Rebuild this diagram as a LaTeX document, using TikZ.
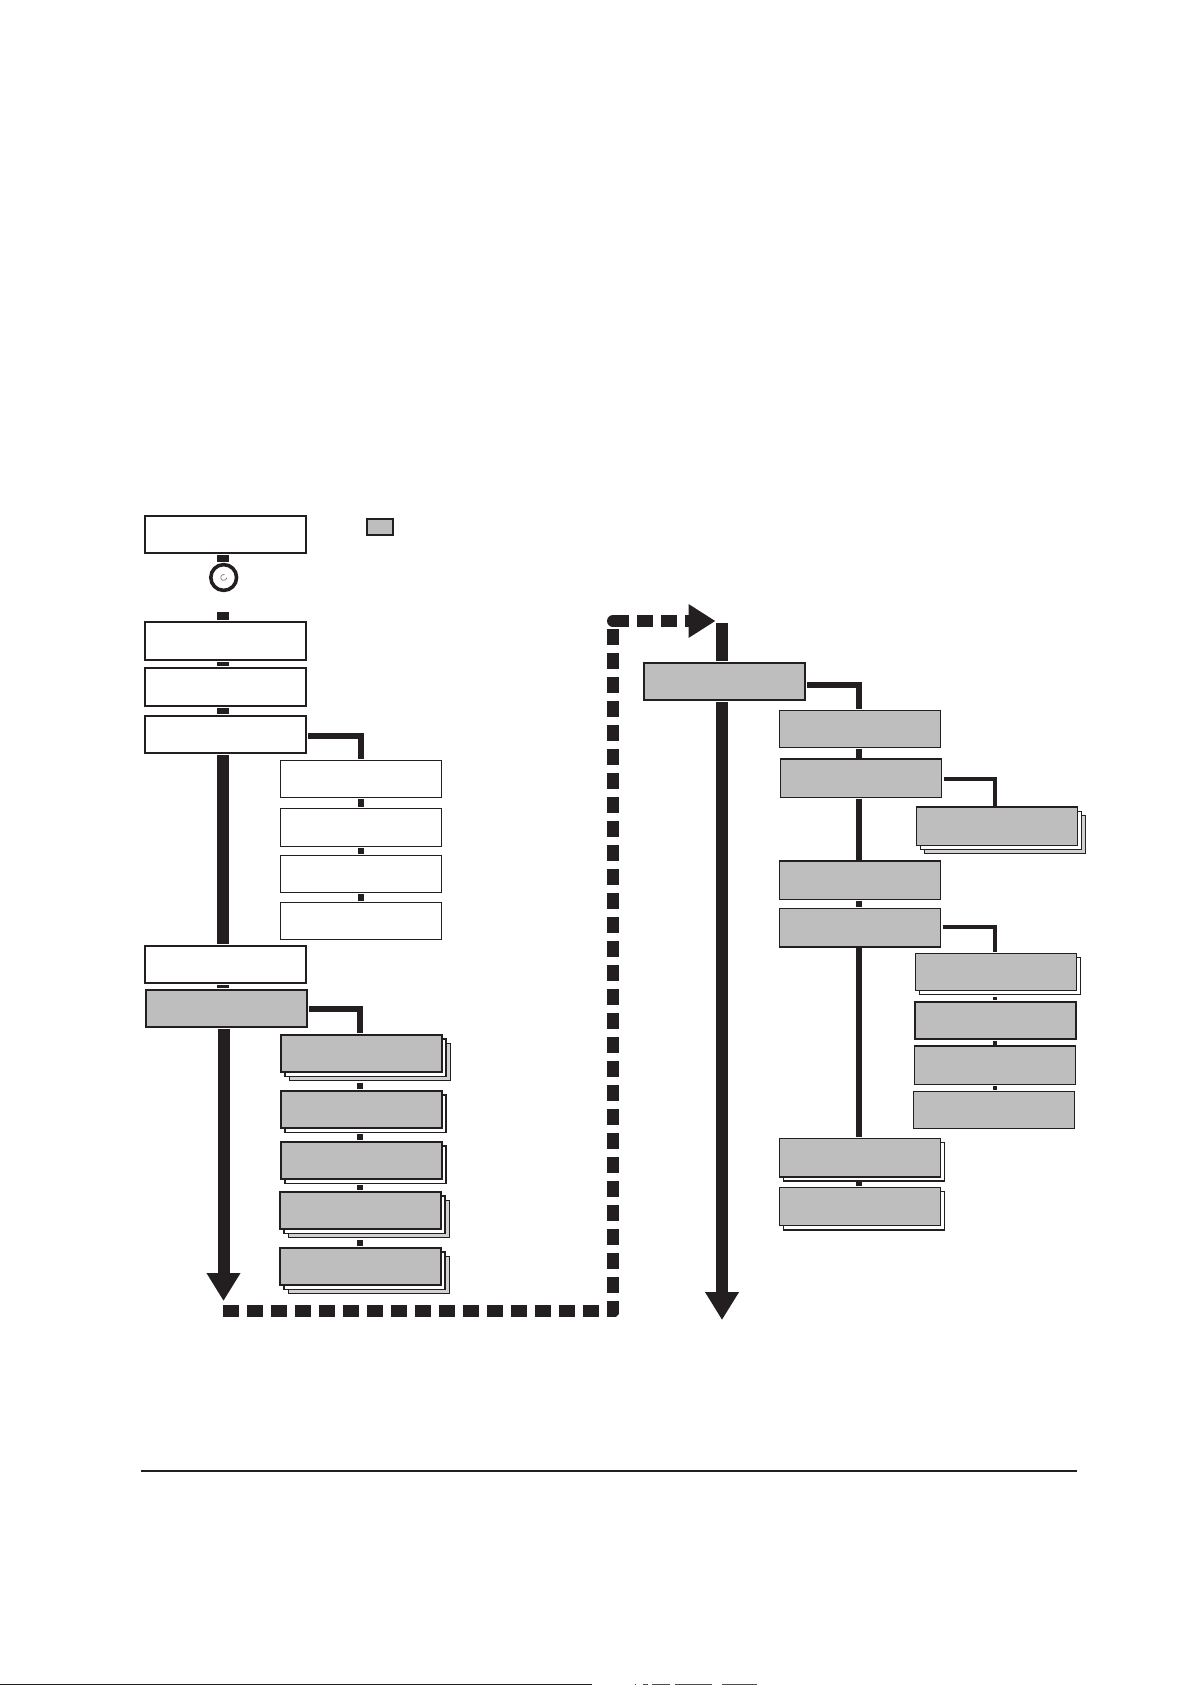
\documentclass[tikz,border=0pt]{standalone}
\usetikzlibrary{arrows.meta}
\definecolor{ink}{HTML}{231F20}
\definecolor{panel}{HTML}{BEBEBE}
\newcommand{\bx}[6]{\node[#2, minimum width={((#5)-(#3))*1pt}, minimum height={((#6)-(#4))*1pt}] (#1) at ({((#3)+(#5))/2},{((#4)+(#6))/2}) {};}
\newcommand{\bxlayers}[5]{% name x1 y1 x2 y2: three-sheet stack, back sheets first
  \bx{#1c}{sheetback}{#2+8}{#3+8}{#4+8.5}{#5+8.5}
  \bx{#1b}{sheetmid}{#2+4}{#3+4}{#4+4}{#5+4}}
\newcommand{\bxlayer}[5]{% name x1 y1 x2 y2: two-sheet stack
  \bx{#1b}{sheetmid}{#2+4}{#3+4}{#4+4}{#5+4}}
\tikzset{
  every node/.style={inner sep=0pt},
  plainbox/.style={draw=ink, fill=white, line width=2pt},
  thinbox/.style={draw=ink, fill=white, line width=1pt},
  greybox/.style={draw=ink, fill=panel, line width=2pt},
  greythin/.style={draw=ink, fill=panel, line width=1pt},
  greymid/.style={draw=ink, fill=panel, line width=1.3pt},
  greyheavy/.style={draw=ink, fill=panel, line width=2.5pt},
  sheetmid/.style={draw=ink, fill=white, line width=1.5pt},
  sheetback/.style={draw=ink, fill=panel!70!white, line width=1pt},
  edgeheavy/.style={draw=ink, line width=2.2pt},
  link/.style={draw=ink, line width=12pt, shorten <=1.3pt, shorten >=1.3pt},
  sublink/.style={draw=ink, line width=6pt, shorten <=1.3pt, shorten >=1.3pt},
  finelink/.style={draw=ink, line width=4pt, shorten <=1.3pt, shorten >=1.3pt},
  branchthick/.style={draw=ink, line width=6pt, miter limit=10, shorten <=1.3pt, shorten >=1.5pt},
  branchfine/.style={draw=ink, line width=4pt, miter limit=10, shorten <=2pt, shorten >=1.5pt},
  trunkarrow/.style={draw=ink, line width=12pt, shorten <=1.3pt, -{Triangle[length=28pt,width=32pt]}},
  jumpflow/.style={draw=ink, line width=12pt, dash pattern=on 16pt off 8pt, -{Triangle[length=27pt,width=32pt]}},
  knob/.style={circle, draw=ink, fill=white, line width=3.6pt, minimum size=25.8pt},
  knobmark/.style={draw=ink!70!white, line width=.6pt},
  rule/.style={draw=ink, line width=2pt},
}
\begin{document}
\begin{tikzpicture}[x=1pt,y=-1pt]
\useasboundingbox (0,0) rectangle (1191,1685);
% column guides
\coordinate (colA) at (223,0);
\coordinate (colB) at (361,0);
\coordinate (colC) at (360,0);
\coordinate (colR) at (722,0);
\coordinate (colS) at (859,0);
\coordinate (colT) at (995,0);
% left column
\bx{b1}{plainbox}{145}{516}{305.8}{552.8}
\node[knob] (knob) at (223.7,577.5) {};
\bx{b2}{plainbox}{145}{622}{305.8}{659.8}
\bx{b3}{plainbox}{145}{668}{305.8}{705.8}
\bx{b4}{plainbox}{145}{716}{305.8}{752.8}
\bx{b5}{plainbox}{145}{946}{305.8}{982.8}
\bx{b6}{greybox}{146}{990}{306.8}{1026.8}
\bx{leg}{greybox}{367}{519}{393}{535}
% white sub-boxes
\bx{s1}{thinbox}{280.5}{760.5}{441.5}{797.5}
\bx{s2}{thinbox}{280.5}{808.5}{441.5}{846.5}
\bx{s3}{thinbox}{280.5}{855.5}{441.5}{892.5}
\bx{s4}{thinbox}{280.5}{902.5}{441.5}{939.5}
% grey stacks, left
\bxlayers{ga}{281}{1035}{442}{1072.3}
\bx{ga}{greybox}{281}{1035}{442}{1072.3}
\bxlayer{gb}{281}{1091}{442}{1128.3}
\bx{gb}{greybox}{281}{1091}{442}{1128.3}
\bxlayer{gc}{281}{1142}{442}{1179.3}
\bx{gc}{greybox}{281}{1142}{442}{1179.3}
\bxlayers{gd}{280}{1192}{441}{1229.3}
\bx{gd}{greybox}{280}{1192}{441}{1229.3}
\bxlayers{ge}{280}{1248}{441}{1285.3}
\bx{ge}{greybox}{280}{1248}{441}{1285.3}
% right column
\bx{r1}{greybox}{644}{663}{805}{700}
\bx{r2}{greythin}{779.5}{710.5}{940.5}{747.5}
\bx{r3}{greymid}{780.7}{759.7}{941.3}{797.3}
\bxlayers{r4}{916.7}{807.7}{1077.3}{845.3}
\bx{r4}{greymid}{916.7}{807.7}{1077.3}{845.3}
\bx{r5}{greymid}{779.7}{861.7}{940.3}{899.3}
\bx{r6}{greymid}{779.7}{908.7}{940.3}{946.3}
\bxlayer{r7}{915.5}{953.5}{1076.5}{990.5}
\bx{r7}{greythin}{915.5}{953.5}{1076.5}{990.5}
\bx{r8}{greyheavy}{915.2}{1002.2}{1075.8}{1038.8}
\bx{r9}{greymid}{914.7}{1046.7}{1075.3}{1084.3}
\bx{r10}{greythin}{913.5}{1091.5}{1074.5}{1128.5}
\bxlayer{r11}{779.7}{1138.7}{940.3}{1176.3}
\bx{r11}{greymid}{779.7}{1138.7}{940.3}{1176.3}
\bxlayer{r12}{779.5}{1187.5}{940.5}{1225.5}
\bx{r12}{greythin}{779.5}{1187.5}{940.5}{1225.5}
% heavier edges
\draw[edgeheavy] (r3.north west) -- (r3.north east);
\draw[edgeheavy] (r4.north west) -- (r4.north east);
\draw[edgeheavy] (r5.north west) -- (r5.north east);
\draw[edgeheavy] (r9.north west) -- (r9.north east);
\draw[edgeheavy] (r6.south west) -- (r6.south east);
\draw[edgeheavy] (r11.south west) -- (r11.south east);
\draw[edgeheavy] (r11b.south west) -- (r11b.south east);
\draw[edgeheavy] (r12b.south west) -- (r12b.south east);
% left trunk
\coordinate (resume) at (223,612);
\coordinate (leftend) at (223.5,1301);
\draw[link] (b1.south -| colA) -- (knob.north -| colA);
\draw[link, shorten <=0pt] (resume) -- (b2.north -| colA);
\draw[link] (b2.south -| colA) -- (b3.north -| colA);
\draw[link] (b3.south -| colA) -- (b4.north -| colA);
\draw[link] (b4.south -| colA) -- (b5.north -| colA);
\draw[link] (b5.south -| colA) -- (b6.north -| colA);
\draw[trunkarrow] (b6.south -| leftend) -- (leftend);
% left branches
\draw[branchthick] ([yshift=-1.5pt]b4.east) -| (s1.north);
\draw[sublink] (s1.south -| colB) -- (s2.north -| colB);
\draw[sublink] (s2.south -| colB) -- (s3.north -| colB);
\draw[sublink] (s3.south -| colB) -- (s4.north -| colB);
\draw[branchthick] ([yshift=-0.7pt]b6.east) -| (ga.north -| colC);
\draw[sublink] (gac.south -| colC) -- (gb.north -| colC);
\draw[sublink] (gbb.south -| colC) -- (gc.north -| colC);
\draw[sublink] (gcb.south -| colC) -- (gd.north -| colC);
\draw[sublink] (gdc.south -| colC) -- (ge.north -| colC);
% jump between columns
\coordinate (jumpstart) at (223.2,1311);
\coordinate (jumptop) at (613,621);
\coordinate (jumpend) at (715.5,621);
\draw[jumpflow] (jumpstart) -| (jumptop) -- (jumpend);
\fill[ink] (jumptop) circle[radius=6pt];
\fill[white] (619.5,1313.5) -- (619.5,1317.5) -- (615.5,1317.5) -- cycle;
% right trunk
\coordinate (righttop) at (722,623);
\coordinate (rightend) at (722,1320);
\draw[link, shorten <=0pt] (righttop) -- (r1.north -| colR);
\draw[trunkarrow] (r1.south -| colR) -- (rightend);
% right branches
\draw[branchthick] ([yshift=-3.5pt]r1.east) -| ([xshift=-1pt]r2.north);
\draw[sublink] (r2.south -| colS) -- (r3.north -| colS);
\draw[sublink] (r3.south -| colS) -- (r5.north -| colS);
\draw[sublink] (r5.south -| colS) -- (r6.north -| colS);
\draw[sublink] (r6.south -| colS) -- (r11.north -| colS);
\draw[sublink] (r11b.south -| colS) -- (r12.north -| colS);
\draw[branchfine] ([yshift=-0.5pt]r3.east) -| (r4.north -| colT);
\draw[branchfine] ([yshift=0.5pt]r6.east) -| (r7.north -| colT);
\draw[finelink] (r7b.south -| colT) -- (r8.north -| colT);
\draw[finelink] (r8.south -| colT) -- (r9.north -| colT);
\draw[finelink] (r9.south -| colT) -- (r10.north -| colT);
% knob mark
\draw[knobmark] ([shift={(70:3pt)}]knob.center) arc[start angle=70,end angle=355,radius=3pt];
% footer
\coordinate (footL) at (141,1470.7);
\coordinate (footR) at (1076.7,1470.7);
\draw[rule] (footL) -- (footR);
% scan residue on the bottom edge
\draw[ink, line width=1.3pt] (0,1684.4) -- (592,1684.4);
\draw[ink!80!white, line width=1pt] (634.5,1684.5) -- (636,1684.5) (643,1684.5) -- (648,1684.5) (652,1684.5) -- (670,1684.5) (675,1684.5) -- (712,1684.5) (722,1684.5) -- (757,1684.5);
\end{tikzpicture}
\end{document}
